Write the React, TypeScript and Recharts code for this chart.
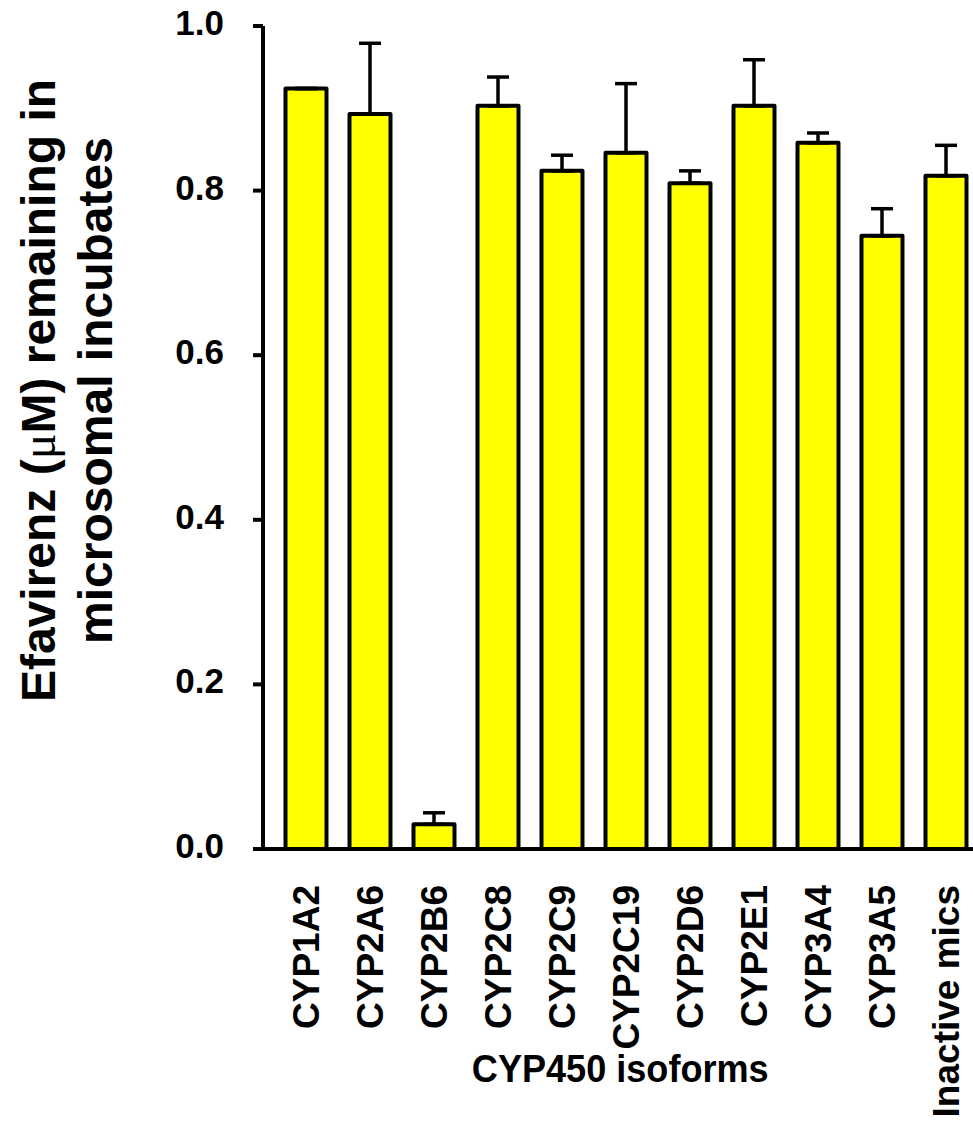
import React from "react";
import { Bar, BarChart, ErrorBar, Label, XAxis, YAxis } from "recharts";

const ISOFORMS = [
  "CYP1A2",
  "CYP2A6",
  "CYP2B6",
  "CYP2C8",
  "CYP2C9",
  "CYP2C19",
  "CYP2D6",
  "CYP2E1",
  "CYP3A4",
  "CYP3A5",
  "Inactive mics",
];
const REMAINING = [0.924, 0.893, 0.03, 0.903, 0.824, 0.846, 0.809, 0.903, 0.858, 0.745, 0.818];
const SD = [0, 0.086, 0.014, 0.035, 0.019, 0.084, 0.015, 0.056, 0.012, 0.033, 0.037];
const Y_TICKS = [0, 0.2, 0.4, 0.6, 0.8, 1.0];

const data = ISOFORMS.map((name, i) => ({ name, value: REMAINING[i], sd: SD[i] }));

const FONT = "Arial, 'Liberation Sans', Helvetica, sans-serif";

function YTick({ x, y, payload }: any) {
  return (
    <text x={x} y={y} dy={9} textAnchor="end" fontFamily={FONT} fontWeight="bold" fontSize={35} fill="#000">
      {Number(payload.value).toFixed(1)}
    </text>
  );
}

function XTick({ x, y, payload }: any) {
  return (
    <text
      transform={`translate(${x}, ${y}) rotate(-90)`}
      dy="0.36em"
      textAnchor="end"
      fontFamily={FONT}
      fontWeight="bold"
      fontSize={37}
      fill="#000"
    >
      {payload.value}
    </text>
  );
}

function YTitle({ viewBox }: any) {
  const cy = viewBox.y + viewBox.height / 2 - 47;
  const common = { textAnchor: "middle" as const, fontFamily: FONT, fontWeight: "bold", fontSize: 48, fill: "#000" };
  return (
    <g>
      <text transform={`translate(55, ${cy}) rotate(-90)`} {...common}>
        Efavirenz (<tspan fontFamily="'Liberation Serif', 'Times New Roman', serif" fontWeight="normal">μ</tspan>M) remaining in
      </text>
      <text transform={`translate(112, ${cy}) rotate(-90)`} {...common}>
        microsomal incubates
      </text>
    </g>
  );
}

// axis title is set a little narrower than the tick labels
function XTitle({ viewBox }: any) {
  const cx = viewBox.x + viewBox.width / 2;
  return (
    <text
      transform={`translate(${cx}, ${viewBox.y + 233}) scale(0.95, 1)`}
      textAnchor="middle"
      fontFamily={FONT}
      fontWeight="bold"
      fontSize={38}
      fill="#000"
    >
      CYP450 isoforms
    </text>
  );
}

export default function App() {
  return (
    <div style={{ position: "absolute", left: 0, top: 0, width: 973, height: 1129, overflow: "hidden", background: "#fff" }}>
      <BarChart width={990} height={1129} data={data} margin={{ top: 26, right: 12.5, bottom: 0, left: 0 }} barSize={41}>
        <XAxis
          dataKey="name"
          interval={0}
          height={280}
          padding={{ left: 10.5, right: 0 }}
          axisLine={{ stroke: "#000", strokeWidth: 4 }}
          tickLine={false}
          tickSize={0}
          tickMargin={36}
          tick={<XTick />}
        >
          <Label content={<XTitle />} />
        </XAxis>
        <YAxis
          width={263}
          domain={[0, 1]}
          ticks={Y_TICKS}
          axisLine={{ stroke: "#000", strokeWidth: 4 }}
          tickLine={{ stroke: "#000", strokeWidth: 4 }}
          tickSize={10}
          tickMargin={29}
          tick={<YTick />}
        >
          <Label content={<YTitle />} />
        </YAxis>
        <Bar dataKey="value" fill="#ffff00" stroke="#000" strokeWidth={4} strokeLinejoin="round" isAnimationActive={false}>
          <ErrorBar
            dataKey={(d: any) => [0, d.sd]}
            direction="y"
            width={11}
            stroke="#000"
            strokeWidth={3.5}
            isAnimationActive={false}
          />
        </Bar>
      </BarChart>
    </div>
  );
}
